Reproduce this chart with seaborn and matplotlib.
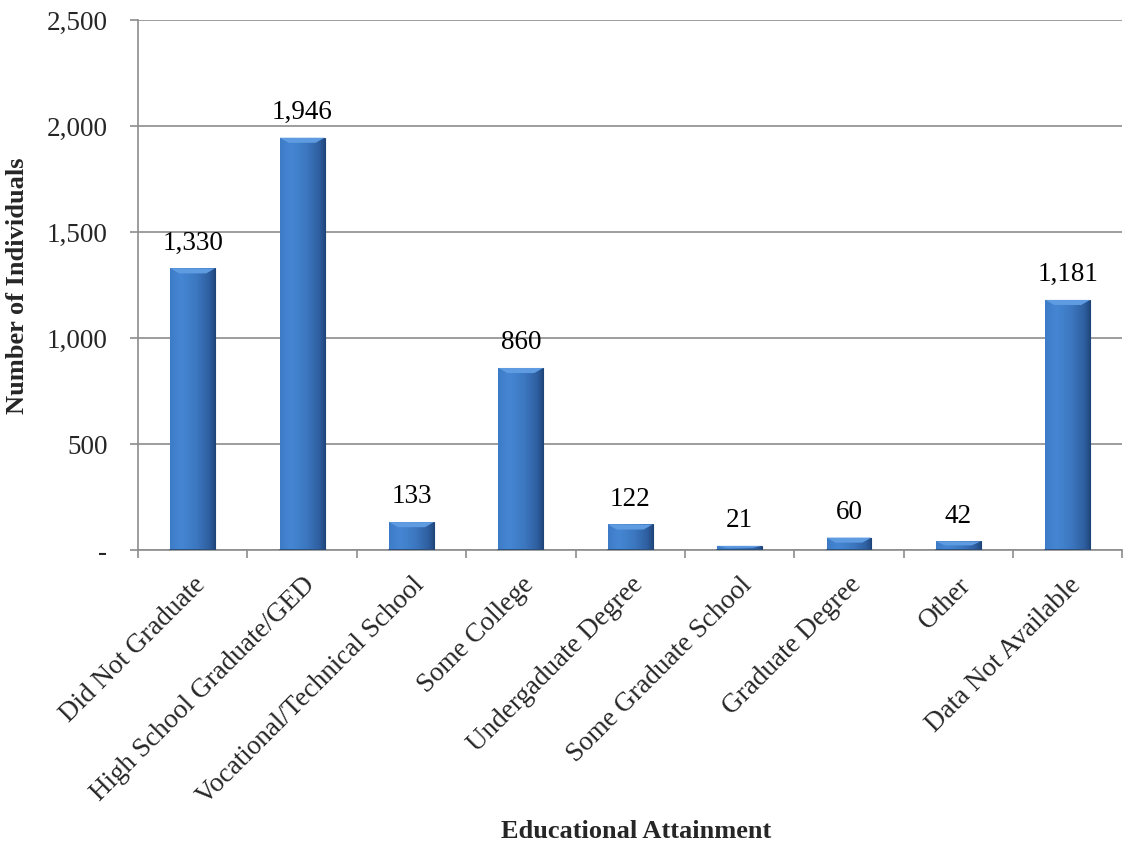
import numpy as np
import pandas as pd
import matplotlib
matplotlib.use("Agg")
import matplotlib.pyplot as plt
import matplotlib.transforms as mtransforms
import seaborn as sns
from matplotlib.ticker import FuncFormatter, FixedLocator
from matplotlib.colors import LinearSegmentedColormap

categories = [
    "Did Not Graduate",
    "High School Graduate/GED",
    "Vocational/Technical School",
    "Some College",
    "Undergaduate Degree",
    "Some Graduate School",
    "Graduate Degree",
    "Other",
    "Data Not Available",
]
counts = [1330, 1946, 133, 860, 122, 21, 60, 42, 1181]

df = pd.DataFrame({"category": categories, "count": counts})

sns.set_theme(style="white")
plt.rcParams["font.family"] = ["Liberation Serif", "DejaVu Serif"]

fig = plt.figure(figsize=(11.25, 8.44), dpi=100)
ax = fig.add_axes([0.1227, 0.348, 0.875, 0.628])

sns.barplot(data=df, x="category", y="count", color="#3f7cc8",
            width=0.41, ax=ax, saturation=1)

# bevelled blue gradient on each bar
grad_cmap = LinearSegmentedColormap.from_list(
    "bar", [(0.0, "#3d7bc6"), (0.25, "#4586d3"), (0.6, "#3c77c0"),
            (0.88, "#2e5e9f"), (1.0, "#22497f")])
grad = np.linspace(0, 1, 256).reshape(1, -1)
for p in ax.patches:
    x0, y0 = p.get_x(), p.get_y()
    w, h = p.get_width(), p.get_height()
    if h <= 0:
        continue
    p.set_facecolor("none")
    p.set_edgecolor("none")
    im = ax.imshow(grad, cmap=grad_cmap, aspect="auto",
                   extent=[x0, x0 + w, y0, y0 + h], zorder=2,
                   interpolation="bilinear")
    im.set_clip_path(p)
    # light bevel along the top edge
    bev = min(h * 0.45, 24)
    ax.fill([x0, x0 + w, x0 + w * 0.8, x0 + w * 0.2],
            [y0 + h, y0 + h, y0 + h - bev, y0 + h - bev],
            color="#5f9be0", zorder=3, lw=0)
    ax.plot([x0 + w, x0 + w], [y0, y0 + h], color="#1d4478", lw=0.8, zorder=3)
    ax.plot([x0, x0 + w], [y0 + 2, y0 + 2], color="#1d4478", lw=1.2, zorder=3)

ax.set_xlim(-0.5, len(categories) - 0.5)
ax.set_ylim(0, 2500)
ax.set_yticks([0, 500, 1000, 1500, 2000, 2500])
ax.yaxis.set_major_formatter(
    FuncFormatter(lambda v, _: "-" if v == 0 else f"{int(v):,}"))
ax.yaxis.grid(True, color="#8c8c8c", lw=1.2)
ax.set_axisbelow(True)

for i, v in enumerate(counts):
    ax.text(i, v + 60, f"{v:,}", ha="center", va="bottom", fontsize=19.5,
            color="black", zorder=4)

# category tick marks sit on the boundaries between bars
ax.xaxis.set_major_locator(FixedLocator(np.arange(len(categories))))
ax.set_xticklabels(categories, rotation=45, ha="right",
                   rotation_mode="anchor", fontsize=19.5)
shift = mtransforms.ScaledTranslation(7 / 100, 0, fig.dpi_scale_trans)
for lbl in ax.get_xticklabels():
    lbl.set_transform(lbl.get_transform() + shift)
ax.xaxis.set_minor_locator(FixedLocator(np.arange(len(categories) + 1) - 0.5))
ax.tick_params(axis="x", which="major", length=0, pad=16)
ax.tick_params(axis="x", which="minor", length=6, color="#8c8c8c",
               width=1.2, direction="out", bottom=True)
ax.tick_params(axis="y", length=6, color="#8c8c8c", width=1.2,
               direction="out", left=True, labelsize=19.5, pad=16)

for side in ["top", "right"]:
    ax.spines[side].set_visible(False)
for side in ["left", "bottom"]:
    ax.spines[side].set_color("#8c8c8c")
    ax.spines[side].set_linewidth(1.2)

ax.set_xlabel("Educational Attainment", fontsize=19, fontweight="bold")
ax.set_ylabel("Number of Individuals", fontsize=19, fontweight="bold")
ax.xaxis.set_label_coords(0.506, -0.53)
ax.yaxis.set_label_coords(-0.122, 0.5)
ax.xaxis.label.set_va("center")
ax.yaxis.label.set_va("center")

fig.savefig("out.png", dpi=100)
